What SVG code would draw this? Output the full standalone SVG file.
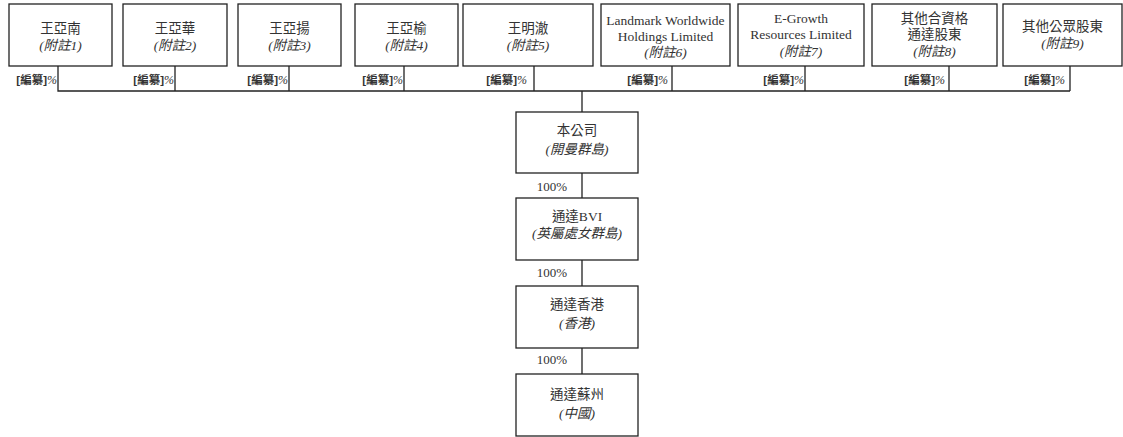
<svg xmlns="http://www.w3.org/2000/svg" width="1123" height="437" viewBox="0 0 1123 437">
<style>
.box{fill:#fff;stroke:#222;stroke-width:1.3}
.t{font-family:"Liberation Serif","Noto Sans CJK TC",serif;font-size:13.5px;fill:#333;text-anchor:middle}
.i{font-style:italic}
.lbl{font-family:"Liberation Sans","Noto Sans CJK TC",sans-serif;font-size:11.5px;font-weight:bold;fill:#333;text-anchor:end}
.pc{font-family:"Liberation Serif",serif;font-style:italic;font-weight:normal;font-size:12px}
.p{font-family:"Liberation Serif",serif;font-size:13px;fill:#333;text-anchor:middle}
.ln{stroke:#222;stroke-width:1.3;fill:none}
</style>
<g id="connectors">
<path class="ln" d="M58,66V91H1070M175,66V91M289,66V91M404,66V91M534,66V91M672,66V91M805,66V91M949,66V91M1070,66V91M582,91V112M582,173V198M582,260V286M582,348V374"/>
<text class="lbl" x="57" y="84">[編纂]<tspan class="pc">%</tspan></text>
<text class="lbl" x="174" y="84">[編纂]<tspan class="pc">%</tspan></text>
<text class="lbl" x="288" y="84">[編纂]<tspan class="pc">%</tspan></text>
<text class="lbl" x="403" y="84">[編纂]<tspan class="pc">%</tspan></text>
<text class="lbl" x="527" y="84">[編纂]<tspan class="pc">%</tspan></text>
<text class="lbl" x="668" y="84">[編纂]<tspan class="pc">%</tspan></text>
<text class="lbl" x="804" y="84">[編纂]<tspan class="pc">%</tspan></text>
<text class="lbl" x="945" y="84">[編纂]<tspan class="pc">%</tspan></text>
<text class="lbl" x="1065" y="84">[編纂]<tspan class="pc">%</tspan></text>
<text class="p" x="552" y="191">100%</text>
<text class="p" x="552" y="277">100%</text>
<text class="p" x="552" y="364">100%</text>
</g>
<g id="n1"><rect class="box" x="9" y="4" width="103" height="62"/><text class="t" x="60.5" y="33">王亞南</text><text class="t i" x="60.5" y="50">(附註1)</text></g>
<g id="n2"><rect class="box" x="123" y="4" width="104" height="62"/><text class="t" x="175" y="33">王亞華</text><text class="t i" x="175" y="50">(附註2)</text></g>
<g id="n3"><rect class="box" x="238" y="4" width="103" height="62"/><text class="t" x="289.5" y="33">王亞揚</text><text class="t i" x="289.5" y="50">(附註3)</text></g>
<g id="n4"><rect class="box" x="355" y="4" width="103" height="62"/><text class="t" x="406.5" y="33">王亞榆</text><text class="t i" x="406.5" y="50">(附註4)</text></g>
<g id="n5"><rect class="box" x="463" y="4" width="130" height="62"/><text class="t" x="528" y="33">王明澈</text><text class="t i" x="528" y="50">(附註5)</text></g>
<g id="n6"><rect class="box" x="601" y="4" width="129" height="62"/><text class="t" x="665.5" y="25">Landmark Worldwide</text><text class="t" x="665.5" y="41">Holdings Limited</text><text class="t i" x="665.5" y="57">(附註6)</text></g>
<g id="n7"><rect class="box" x="738" y="4" width="126" height="62"/><text class="t" x="801" y="23">E-Growth</text><text class="t" x="801" y="39">Resources Limited</text><text class="t i" x="801" y="56">(附註7)</text></g>
<g id="n8"><rect class="box" x="872" y="4" width="125" height="62"/><text class="t" x="934.5" y="23">其他合資格</text><text class="t" x="934.5" y="39">通達股東</text><text class="t i" x="934.5" y="56">(附註8)</text></g>
<g id="n9"><rect class="box" x="1003" y="4" width="119" height="62"/><text class="t" x="1062.5" y="31">其他公眾股東</text><text class="t i" x="1062.5" y="48">(附註9)</text></g>
<g id="company"><rect class="box" x="516" y="112" width="122" height="61"/><text class="t" x="577" y="135">本公司</text><text class="t i" x="577" y="154">(開曼群島)</text></g>
<g id="bvi"><rect class="box" x="516" y="198" width="122" height="62"/><text class="t" x="577" y="221">通達BVI</text><text class="t i" x="577" y="238">(英屬處女群島)</text></g>
<g id="hk"><rect class="box" x="516" y="286" width="122" height="62"/><text class="t" x="577" y="309">通達香港</text><text class="t i" x="577" y="328">(香港)</text></g>
<g id="suzhou"><rect class="box" x="516" y="374" width="122" height="62"/><text class="t" x="577" y="399">通達蘇州</text><text class="t i" x="577" y="418">(中國)</text></g>
</svg>
